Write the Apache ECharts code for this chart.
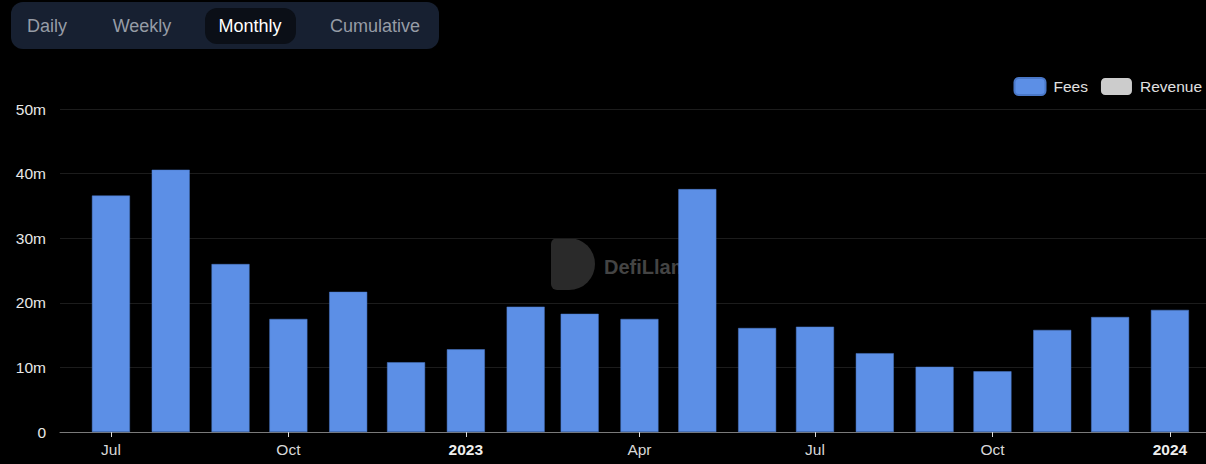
<!DOCTYPE html>
<html>
<head>
<meta charset="utf-8">
<script src="https://cdn.jsdelivr.net/npm/echarts@6/dist/echarts.min.js"></script>
<style>
  html, body { margin: 0; padding: 0; background: #000; }
  #chart { width: 1206px; height: 464px; }
</style>
</head>
<body>
<div id="chart"></div>
<script>
const months = ["2022-07-01","2022-08-01","2022-09-01","2022-10-01","2022-11-01","2022-12-01",
  "2023-01-01","2023-02-01","2023-03-01","2023-04-01","2023-05-01","2023-06-01",
  "2023-07-01","2023-08-01","2023-09-01","2023-10-01","2023-11-01","2023-12-01","2024-01-01"];
const fees = [36.6, 40.6, 26.0, 17.5, 21.7, 10.8, 12.8, 19.4, 18.3, 17.5, 37.6, 16.1,
  16.3, 12.2, 10.1, 9.4, 15.8, 17.8, 18.9];
const revenue = [];
const tickDates = ["2022-07-01","2022-10-01","2023-01-01","2023-04-01","2023-07-01","2023-10-01","2024-01-01"];
const yTicks = [0, 10, 20, 30, 40, 50];
const tabs = ["Daily", "Weekly", "Monthly", "Cumulative"];
const monthNames = ["Jan","Feb","Mar","Apr","May","Jun","Jul","Aug","Sep","Oct","Nov","Dec"];

const dayNum = s => Date.UTC(+s.slice(0,4), +s.slice(5,7) - 1, +s.slice(8,10)) / 86400000;
const FONT = "'Liberation Sans', Arial, Helvetica, sans-serif";

const chart = echarts.init(document.getElementById('chart'), null, { renderer: 'svg' });
const option = {
  backgroundColor: '#000',
  animation: false,
  textStyle: { fontFamily: FONT },
  grid: { left: 60, right: 0, top: 109, bottom: 32 },
  legend: {
    right: 4, top: 77,
    itemWidth: 31, itemHeight: 17, itemGap: 13,
    icon: 'roundRect',
    textStyle: { color: '#e0e0e0', fontSize: 15.5, fontFamily: FONT, lineHeight: 17, padding: [0, 0, 0, 3] },
    padding: 0,
    data: ['Fees', 'Revenue']
  },
  xAxis: {
    type: 'value',
    min: dayNum("2022-07-01") - 26.4,
    max: dayNum("2024-01-01") + 18.7,
    axisLine: { lineStyle: { color: '#7a7a7a', width: 1 } },
    axisTick: { show: true, length: 5, lineStyle: { color: '#dddddd' }, customValues: tickDates.map(dayNum) },
    splitLine: { show: false },
    axisLabel: {
      customValues: tickDates.map(dayNum),
      color: '#d8d8d8', fontSize: 15.5, margin: 9,
      formatter: function (v) {
        const d = new Date(v * 86400000);
        if (d.getUTCMonth() === 0) return '{b|' + d.getUTCFullYear() + '}';
        return monthNames[d.getUTCMonth()];
      },
      rich: { b: { fontWeight: 'bold', color: '#eeeeee', fontSize: 15.5, fontFamily: FONT } }
    }
  },
  yAxis: {
    type: 'value', min: yTicks[0], max: yTicks[yTicks.length - 1], interval: 10,
    axisLine: { show: false }, axisTick: { show: false },
    splitLine: { lineStyle: { color: '#1c1c1c', width: 1 } },
    axisLabel: { color: '#e8e8e8', fontSize: 15.5, margin: 14,
      formatter: v => v === 0 ? '0' : v + 'm' }
  },
  graphic: [
    { type: 'rect', shape: { x: 11, y: 2, width: 428, height: 47, r: 12 }, style: { fill: '#172031' }, z: 0 },
    { type: 'rect', shape: { x: 205, y: 8, width: 91, height: 36, r: 12 }, style: { fill: '#0b0f17' }, z: 1 },
    { type: 'text', x: 47, y: 26, style: { text: tabs[0], fill: '#969ca6', font: '18px ' + FONT, textAlign: 'center', textVerticalAlign: 'middle' }, z: 2 },
    { type: 'text', x: 142, y: 26, style: { text: tabs[1], fill: '#969ca6', font: '18px ' + FONT, textAlign: 'center', textVerticalAlign: 'middle' }, z: 2 },
    { type: 'text', x: 250, y: 26, style: { text: tabs[2], fill: '#ffffff', font: '18px ' + FONT, textAlign: 'center', textVerticalAlign: 'middle' }, z: 2 },
    { type: 'text', x: 375, y: 26, style: { text: tabs[3], fill: '#969ca6', font: '18px ' + FONT, textAlign: 'center', textVerticalAlign: 'middle' }, z: 2 },
    { type: 'rect', shape: { x: 551, y: 238, width: 44, height: 52, r: [6, 26, 26, 6] }, style: { fill: '#2a2a2a' }, z: 0 },
    { type: 'text', x: 604, y: 267, style: { text: 'DefiLlama', fill: '#444444', font: 'bold 20px ' + FONT, textVerticalAlign: 'middle' }, z: 0 }
  ],
  series: [
    {
      name: 'Fees', type: 'bar', barWidth: 38, stack: 'all',
      itemStyle: { color: '#5c8fe6', borderColor: '#4a78c8', borderWidth: 0.5 },
      data: months.map((m, i) => [dayNum(m), fees[i]]),
      z: 5
    },
    {
      name: 'Revenue', type: 'bar', barWidth: 38, stack: 'all',
      itemStyle: { color: '#cccccc' },
      data: revenue, z: 5
    }
  ]
};
chart.setOption(option);
</script>
</body>
</html>
